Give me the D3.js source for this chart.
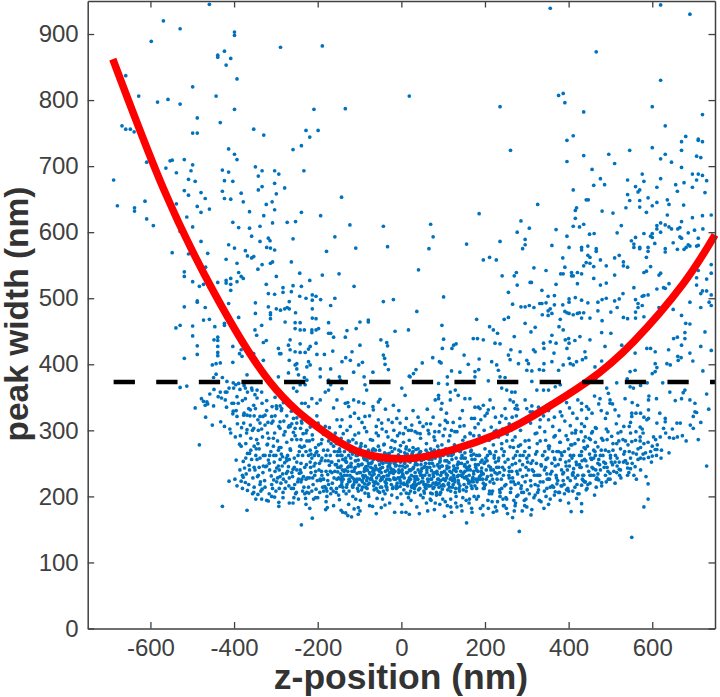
<!DOCTYPE html>
<html><head><meta charset="utf-8">
<script src="https://cdn.jsdelivr.net/npm/d3@7"></script>
<style>html,body{margin:0;padding:0;background:#fff}svg{display:block}</style></head>
<body><svg id="c" width="720" height="697"></svg>
<script>
const xTicks=[-600,-400,-200,0,200,400,600];
const yTicks=[0,100,200,300,400,500,600,700,800,900];
const threshold=373;
const curveZ=[-690,-569,-449,-314,-194,-100,10,120,236,316,443,555,674,750];
const curveW=[862,666,510,373,302,267,257,270,296,322,373,434,522,596];
const upperLeft=[-459,945,-569,920,-529,908,-399,903,-399,898,-598,889,-289,880,-189,882,-423,874,-439,868,-439,865,-408,863,-419,853,-659,837,-393,832,-499,820,-628,806,-443,806,-583,797,-558,801,-529,794,-399,786,-209,786,-134,787,19,806,-488,773,-433,766,-668,761,-659,756,-648,756,-639,752,-499,750,-488,750,-353,756,-329,747,-228,754,-199,754,-219,744,-239,731,-259,725,-413,726,-399,718,-393,710,-609,706,-553,708,-548,709,-519,710,-499,702,-563,697,-538,690,-503,693,-428,694,-413,691,-349,699,-333,693,-303,693,-293,688,-342,685,-233,693,-688,679,-509,680,-493,677,-423,678,-403,677,-303,674,-333,669,-342,664,-279,667,-519,663,-479,660,-428,662,-383,659,-299,658,-509,656,-469,651,-423,651,-408,650,-143,653,-613,647,-378,646,-309,646,-323,642,-679,640,-538,643,-488,639,-459,635,-638,637,-638,632,-303,634,-479,630,-363,631,-239,630,-329,625,-193,625,-513,623,-609,620,-403,615,-308,614,-273,615,-253,616,-593,610,-499,608,-389,607,-363,606,-338,609,-123,611,-43,609,-529,601,-358,594,-318,591,-159,593,-259,590,-479,586,-338,586,-314,587,-413,581,-399,576,-322,577,-313,576,-303,573,-373,572,-179,571,-109,576,-33,578,-548,569,-509,567,-463,568,-368,564,-358,561,-353,563,-419,559,-263,555,-393,553,-313,553,-308,555,-333,551,-343,544,-468,547,-519,540,-519,533,-389,539,-243,538,-383,533,-378,530,-299,533,-189,535,-149,537,-419,527,-419,523,-408,530,-499,525,-439,524,-393,525,-219,527,-473,521,-483,518,-459,516,-408,521,-408,512,-323,521,-283,516,-283,509,-259,519,-239,518,-113,518,-318,507,-303,506,-263,510,-243,503,-228,500,-213,505,-213,497,-204,503,-193,498,-159,500,-488,496,-488,494,-43,495,-19,498,-413,492,-349,493,-268,495,-519,487,-469,486,-169,489,-318,487,-299,484,-289,482,-279,484,-273,486,-268,484,-213,484,-349,477,-313,478,-313,475,-253,478,-389,471,-313,469,-213,470,-204,469,-473,467,-459,468,-79,467];
const upperRight=[356,939,620,944,690,930,466,873,620,830,376,807,387,810,391,796,236,790,600,790,436,782,720,778,631,761,411,746,396,739,680,745,670,737,710,741,710,739,720,737,261,724,546,724,600,728,670,724,496,718,436,716,631,718,620,711,706,715,716,713,396,707,510,704,646,706,670,698,456,695,576,688,696,688,710,688,720,686,476,681,541,679,620,681,580,677,706,679,730,678,676,675,460,671,486,672,656,672,560,669,611,668,696,668,411,664,570,664,566,661,660,662,726,660,541,657,442,649,447,649,546,648,590,652,570,648,636,649,326,642,611,645,640,642,600,640,675,641,419,637,416,633,537,637,570,638,480,632,506,629,586,630,186,628,636,626,741,626,720,625,696,622,416,621,286,617,670,616,70,612,620,614,631,611,611,610,411,609,426,608,436,612,526,610,640,608,646,605,611,605,661,605,666,607,306,606,721,605,370,604,701,603,277,600,516,599,620,600,600,598,580,598,686,599,450,597,461,598,396,594,596,594,600,592,76,593,666,593,670,591,560,592,710,591,296,589,236,586,550,587,156,582,360,580,296,581,556,582,556,577,606,583,650,584,446,579,401,577,431,577,431,573,570,577,570,575,590,577,590,571,686,581,690,579,706,579,710,580,681,577,676,574,660,574,631,575,631,570,66,575,290,575,466,575,466,571,196,558,211,562,227,558,446,565,451,562,521,565,510,561,586,562,386,561,476,558,531,555,531,549,541,547,442,554,436,549,451,553,460,548,490,549,596,548,317,546,391,547,41,543,346,542,580,539,586,541,710,542,741,551,741,538,275,539,270,534,241,534,381,537,387,537,407,539,407,534,411,534,421,539,431,537,510,535,620,538,616,535,460,530,730,529,706,531,308,524,311,524,490,523,476,520,421,522,277,520,370,521,640,522,706,520,556,516,611,514,627,516,631,515,336,512,256,509,720,511,716,507,730,511,741,505,101,502,351,503,366,504,530,507,580,504,590,505,576,503,401,499,401,494,416,501,431,497,490,500,480,498,470,494,510,496,521,499,560,498,446,493,690,494,736,494,741,489,566,492,566,486,576,489,266,491,286,487,296,487,306,489,317,486,331,492,336,492,346,493,366,490,386,490,516,486,716,486,650,483,616,486,37,480,351,481,356,484,470,481,501,479,391,480,396,478,401,477,411,475,421,477,426,478,436,478,560,479,337,475,351,474,360,477,670,474,531,471,541,469,560,470,580,472,256,471,246,468,431,470,451,470,480,466,380,468,180,468];
const midLeft=[-539,455,-529,459,-499,458,-499,443,-519,409,-488,428,-488,415,-448,437,-439,441,-439,436,-439,427,-439,418,-439,413,-446,457,-423,462,-423,459,-403,427,-403,403,-433,402,-443,401,-452,399,-449,380,-443,385,-428,380,-529,365,-513,367,-493,334,-468,320,-452,308,-432,313,-423,306,-408,296,-397,290,-387,279,-383,276,-368,265,-363,265,-483,278,-473,344,-478,348,-463,340,-458,355,-448,362,-438,351,-421,358,-412,364,-402,372,-396,369,-386,362,-376,368,-368,358,-358,364,-350,354,-345,349,-333,341,-322,345,-309,336,-299,337,-287,330,-274,322,-263,329,-250,319,-239,314,-226,317,-213,309,-199,311,-430,349,-418,335,-402,329,-390,341,-376,326,-365,333,-352,322,-343,316,-331,321,-319,312,-307,314,-293,306,-281,314,-268,307,-254,303,-241,303,-228,296,
-350,452,-346,444,-334,459,-278,464,-254,463,-242,463,-254,454,-242,452,-232,452,-214,452,-214,448,-204,452,-198,454,-174,463,-174,447,-169,447,-162,441,-130,451,-134,441,-108,454,-99,464,-79,464,-15,450,17,452,-330,433,-323,436,-266,437,-270,429,-266,422,-254,419,-242,418,-230,418,-222,423,-218,427,-242,431,-204,432,-294,424,-291,416,-288,416,-385,434,-383,422,-202,415,-184,415,-164,420,-118,419,-99,429,-49,437,-35,433,-33,428,-387,416,-381,412,-353,416,-349,409,-345,404,-342,399,-338,394,-330,406,-268,406,-250,401,-250,393,-254,399,-222,404,-218,399,-226,396,-194,393,-169,393,-142,404,-133,410,-122,406,-102,399,-93,403,-43,414,-40,409,-39,400,-31,392,-369,384,-294,381,-270,387,-246,384,-232,380,-226,376,-194,381,-148,381,-174,376,-146,376,-114,388,-89,381,-68,388,-87,369,19,382,
-417,374,-401,364,-389,371,-373,364,-357,361,-345,361,-334,358,-433,358,-417,358,-465,343,-469,338,-449,337,-421,346,-405,341,-401,341,-393,351,-373,348,-353,338,-349,333,-361,331,-302,350,-290,337,-286,333,-298,333,-258,364,-250,359,-242,369,-230,369,-238,341,-230,341,-214,348,-202,341,-194,346,-182,358,-174,361,-169,369,-142,363,-154,346,-134,341,-126,336,-114,346,-102,343,-90,341,-83,361,-68,336,-55,343,-51,347,-19,338,9,353,1,364,-403,325,-393,321,-377,323,-369,323,-377,311,-361,308,-369,301,-353,303,-338,321,-326,323,-338,311,-326,308,-310,311,-310,321,-290,313,-290,303,-270,305,-250,311,-258,318,-238,311,-218,305,-154,316,-146,306,-122,321,-122,306,-102,318,-87,321,-67,331,-55,316,-47,311,-31,316,-11,318,-3,311,17,300];
const midRight=[97,459,101,438,98,424,121,424,131,431,125,429,91,404,150,414,172,439,182,439,196,437,186,408,176,389,211,457,220,452,230,447,224,432,236,431,270,442,262,422,256,414,260,407,216,404,228,399,232,391,296,462,320,456,310,449,316,422,320,419,284,419,300,406,304,401,280,401,300,391,312,390,340,432,341,424,341,401,360,404,340,391,330,392,365,417,360,444,370,432,356,434,387,452,377,457,400,439,401,432,415,436,427,442,404,401,411,399,401,409,419,404,433,407,441,410,439,419,392,437,396,424,451,437,479,448,501,447,487,427,479,405,463,396,527,429,547,427,559,417,547,389,559,391,29,386,21,381,89,371,110,381,110,370,176,381,208,375,236,381,248,380,240,364,252,361,264,358,272,358,312,374,324,361,340,361,352,361,368,366,380,369,387,399,376,391,89,353,81,346,89,348,97,341,117,358,129,361,117,346,136,353,152,348,164,348,176,335,184,335,196,338,212,346,208,331,188,333,260,346,268,343,276,338,248,333,272,333,300,333,312,337,328,335,320,323,308,328,356,341,368,343,431,341,443,336,431,331,475,348,499,346,499,341,511,331,547,366,555,364,491,364,495,356,
285,300,298,318,309,311,320,295,331,305,343,298,352,316,366,320,378,300,391,314,404,307,417,300,431,310,443,318,455,296,466,303,479,288,490,302,503,291,515,280,525,298,536,284,545,306,561,298,571,305,571,290,571,284,551,283,591,318,587,316,591,331,591,346,551,326,561,326,551,321,710,286,698,303,691,308,698,321,706,327,681,284,659,311,667,311,641,289,651,288,660,290,619,290,627,303,611,311,631,313,631,318,730,355,721,390,678,361,674,357,670,348,702,341,702,328,726,449,741,421,716,427,690,417,697,405,661,412,669,410,662,406,678,448,690,461,680,462,678,439,670,429,660,441,651,439,639,422,635,401,643,399,607,401,611,395,607,389,600,386,587,424,596,424,607,419,
80,298,95,332,110,312,60,310,40,320,25,308,45,295,70,310,105,315,120,300,140,318,150,307,165,295,175,318,190,316,205,326,215,305,225,320,235,312,250,318,265,320,275,322,340,322,352,330,365,340,380,328,395,342,410,326,420,318,448,332,462,352,478,330,488,318,505,340,520,322,535,348,565,338,580,320,610,348,625,372,642,358,655,345,588,372,572,368,540,378,515,372,465,378,95,402,140,388,160,400,185,392,120,390,75,410,50,402,35,392];
const core=[-428,185,-369,179,-239,157,-213,167,-412,223,-398,226,-393,216,-383,223,-373,221,-368,209,-353,206,-343,203,-333,211,-322,194,-318,193,-303,199,-293,191,-293,185,-268,190,-259,190,-228,188,-219,182,-181,180,-177,183,-144,179,-133,175,-128,171,-119,169,-103,173,-113,181,-103,183,-69,185,-48,183,-39,187,1,176,11,176,19,173,
-378,253,-375,243,-371,234,-378,229,-364,247,-358,256,-350,240,-344,230,-337,222,-331,236,-325,245,-318,255,-311,231,-305,225,-298,243,-292,212,-288,220,-284,234,-279,251,-272,262,-268,228,-263,212,-259,241,-253,204,-248,222,-244,235,-240,250,-236,262,-233,214,-229,197,-225,228,-221,205,-217,244,-214,258,-211,218,-207,232,-204,211,-200,198,-197,240,-193,224,-190,258,-186,208,-183,215,-180,192,-176,233,-172,247,-169,204,-165,220,-162,186,-159,238,-155,212,-152,268,-148,195,-145,226,-141,240,-138,208,-134,254,-130,218,-126,188,-123,232,-120,245,-116,200,-112,222,-108,262,-105,212,-101,236,-98,194,-94,249,-90,228,-87,205,-83,240,-80,218,-76,186,-72,250,-69,232,-65,210,-61,222,-58,197,-54,240,-50,214,-47,252,-43,230,-39,204,-36,220,-32,245,-28,190,-25,236,-21,212,-17,250,-14,226,-10,198,-6,240,-3,215,1,188,4,232,8,250,12,205,15,222,19,240,23,194,26,214,30,230,34,252,37,184,41,210,45,236,48,222,52,198,56,245,59,218,63,178,67,232,70,205,74,250,78,214,81,190,85,238,89,226,92,203,96,246,100,218,103,170,107,234,111,210,114,251,118,196,122,224,125,240,129,206,133,184,136,232,140,216,144,250,147,198,151,228,155,208,158,240,162,190,166,222,169,176,173,234,177,248,180,212,184,200,188,226,191,238,195,186,199,216,202,258,206,230,210,204,213,244,217,192,221,220,224,236,228,178,232,254,235,210,239,226,243,196,246,240,250,218,254,174,257,232,261,206,265,248,268,222,272,186,276,238,279,202,283,254,287,216,290,230,294,194,298,244,301,210,305,262,309,224,312,180,316,238,320,202,323,250,327,216,331,232,334,192,338,262,342,208,345,244,349,226,353,272,356,196,360,238,364,214,367,256,371,228,375,248,378,206,382,266,386,234,389,218,393,252,397,240,400,272,404,224,408,258,411,236,415,280,419,248,422,204,426,262,430,244,433,226,437,274,441,254,444,212,448,238,452,286,455,256,459,242,463,268,466,226,470,250,
-360,288,-352,276,-340,272,-332,290,-320,279,-312,268,-303,296,-296,284,-288,274,-281,293,-274,282,-265,270,-258,297,-250,286,-243,276,-235,295,-228,268,-220,284,-213,293,-205,274,-198,262,-190,286,-183,297,-176,270,-168,280,-160,292,-153,262,-146,282,-139,295,-131,252,-124,283,-118,268,-111,293,-103,255,-96,280,-90,267,-83,298,-76,258,-69,285,-62,270,-55,292,-49,262,-42,278,-36,298,-29,265,-22,285,-16,272,-9,292,-2,268,5,295,12,275,19,285,26,265,33,298,40,272,46,288,53,262,60,280,66,295,73,268,80,285,87,276,93,258,100,292,106,272,113,284,120,262,127,278,133,298,140,268,147,285,153,258,160,278,167,270,173,292,180,262,187,282,193,255,200,272,207,290,213,265,220,278,227,300,233,258,240,280,246,268,253,294,260,275,266,285,273,262,280,276,
-395,255,-386,240,-380,212,-365,218,-355,228,-348,196,-340,244,-327,224,-315,240,-308,212,-300,262,-290,230,-283,206,-276,222,-270,245,-260,230,-255,218,-250,240,-246,196,-238,226,-231,244,-226,206,-222,262,-216,236,-210,196,-206,250,-201,224,-195,206,-191,238,-187,226,-182,254,-178,200,-174,218,-170,262,-166,236,-163,208,-158,248,-154,226,-150,202,-147,244,-143,218,-140,176,-136,232,-132,204,-128,244,-125,226,-121,258,-117,216,-113,238,-109,196,-106,226,-102,246,-99,178,-95,210,-92,232,-88,256,-85,214,-81,240,-78,200,-74,226,-70,264,-67,222,-63,240,-60,174,-56,208,-52,248,-48,228,-45,196,-41,262,-38,238,-34,210,-30,226,-27,250,-23,202,-19,240,-16,176,-12,216,-8,258,-5,228,-1,204,3,246,6,220,10,262,14,236,17,198,21,252,25,216,28,242,32,206,36,262,39,226,43,174,47,248,50,232,54,208,58,262,61,240,65,216,69,196,72,256,76,234,79,180,83,218,87,248,90,262,94,206,98,236,101,226,105,192,109,254,112,218,116,238,120,176,123,266,127,226,131,200,134,248,138,212,142,232,145,178,149,258,152,238,156,214,160,244,163,196,167,262,170,226,174,200,178,244,181,222,185,262,189,182,192,236,196,212,200,252,203,226,207,194,211,268,214,240,218,208,222,258,225,184,229,226,233,244,236,200,240,272,244,232,247,216,251,182,255,256,258,238,262,212,266,228,269,194,273,250,277,268,280,220,284,240,288,206,291,262,295,186,299,232,302,252,306,274,310,216,313,240,317,198,321,264,324,232,328,210,332,284,335,246,339,222,343,268,346,200,350,258,354,276,357,234,361,216,365,290,368,246,372,268,376,206,379,282,383,240,387,224,390,268,394,292,398,212,401,254,405,278,409,234,412,262,416,296,420,218,423,286,427,244,431,268,434,232,438,256,442,210,445,276,449,288,453,258,457,298,460,232,464,304,
470,275,476,262,482,285,488,270,494,298,500,258,506,280,512,262,518,296,524,272,530,286,536,254,542,278,548,296,554,266,560,285,566,256,572,274,578,296,584,266,590,282,596,268,603,290,612,278,476,240,484,252,492,244,500,262,508,238,516,258,524,240,532,264,540,250,548,258,578,264,566,272,545,268,460,258,465,240,472,225,488,232,440,290,430,298,398,286,368,292,345,285,325,280,305,285,295,268,285,278,272,290,262,300,252,284,242,302,232,290,222,298,210,285,198,300,186,292,176,304,164,296,152,290,140,306,128,298,116,292,104,302,90,298,78,290,64,300,52,306,38,296,24,300,10,304,-4,296,-18,300,-32,290,-46,302,-60,296,-74,286,-88,304,-102,296,-116,286,-130,300,-144,288,-158,296,-172,304,-186,294,-200,302,-212,286,-226,300,-240,286,-254,292,-266,306,-278,298,-292,274,-306,288,-320,296,-334,302,-346,286,-356,300,-370,296,-382,304,-392,310,
-385,292,-372,280,-360,270,-348,262,-338,258,-326,262,-316,250,-304,252,-294,246,-284,260,-274,254,-256,258,-240,236,-228,226,-218,252,-202,268,-192,254,-180,262,-168,252,-152,244,-142,230,-126,262,-110,244,-94,224,-82,254,-68,238,-52,206,-34,232,-14,246,0,238,18,204,33,226,46,202,60,190,71,194,84,202,92,188,99,196,110,186,118,184,130,190,143,186,155,194,168,182,180,196,195,172,208,182,220,176,230,192,246,186,252,196,266,168,273,190,289,178,300,184,330,194,352,188,366,202,380,194,395,210,415,214,425,204,440,222,456,244,470,234,485,244,495,226,505,248,515,236,525,228,535,254,548,242,562,226,572,240,585,230,598,252,610,262,622,270,632,296,640,266,282,147,551,138,156,160,310,172,341,182,406,177,431,177,580,184,590,196,590,219,730,246,621,258,607,271,611,271,600,261,591,259,580,257,559,245,556,232,541,232,541,243,521,241,521,252,511,252,531,252,499,235,511,220,499,226,479,216,479,221,490,222,462,202,451,220,451,232,431,217,435,224,410,208,400,208,400,190,419,197,431,189,384,216,368,207,348,212,372,219];
const dense=[-140,256,-73,244,-22,268,47,238,112,262,-118,229,-35,214,-2,277,63,226,134,243,-152,237,-67,272,18,222,89,270,171,229,-103,208,-48,236,35,271,98,211,148,235,-129,275,-59,228,6,210,72,239,117,226,-92,265,-12,247,55,205,141,268,192,243,-147,215,-78,250,-27,225,41,263,103,238,-112,242,-41,279,24,232,83,221,158,252,-86,231,-7,263,66,216,125,232,201,218,-136,268,-56,219,29,244,93,254,169,212,-99,273,-19,235,51,228,137,220,-123,223,-64,258,11,272,78,246,152,266,-144,246,-82,212,-31,262,36,218,108,228,183,238,-108,281,-45,244,16,254,69,262,130,212,-76,236,-3,224,58,250,121,256,209,246,-131,214,-52,270,21,239,86,234,165,240,-95,248,-24,218,44,212,114,244,194,226,-117,264,-37,252,7,228,74,204,143,258,-88,219,-15,283,61,236,128,222,215,232,-150,254,-71,226,27,258,96,216,176,256,-106,235,-43,208,39,226,106,268,-127,284,-62,246,2,240,81,258,161,220,-84,266,-9,214,53,256,118,208,187,230,-139,226,-54,232,31,212,91,243,225,252,-101,217,-25,274,14,264,70,226,136,252,-120,250,-69,270,-1,220,49,242,110,232,198,212,-145,234,-33,240,22,226,87,266,155,244,-90,258,-17,226,64,222,124,264,206,262,-113,226,-57,256,33,236,100,226,178,226,-134,240,-79,204,9,244,76,212,146,230,-97,276,-39,222,43,266,115,214,218,226,-125,208,-65,234,-11,256,57,214,131,238,190,252,-85,245,-28,246,25,214,94,232,162,232,-148,272,-50,224,5,282,68,244,139,208,228,244,-109,254,-74,264,-20,214,38,248,107,254,173,264,-128,238,-47,260,19,228,84,206,151,246,-93,222,-6,236,59,270,126,228,211,208,-142,262,-60,212,32,222,97,278,196,234,-116,214,-34,264,12,218,79,236,167,216,-81,228,-14,252,46,232,119,270,222,262,-104,270,-68,242,28,268,90,220,184,248,-132,252,-42,230,3,256,73,256,144,272,-89,238,-23,238,54,218,109,246,203,240,
-330,262,-302,238,-275,235,-247,262,-218,270,-190,232,-162,276,-310,218,-285,246,-258,212,-232,276,-205,238,-176,224,-156,206,-322,246,-296,228,-268,256,-240,222,-214,208,-186,270,-166,252,-342,232,-315,262,-290,256,-262,236,-236,208,-208,262,-180,212,-345,256,-306,276,-278,212,-250,252,-226,284,-196,250,-170,238,-336,208,-300,208,-272,238,-246,226,-220,228,-194,226,-160,268,-352,244,-326,214,-294,270,-266,272,-242,240,-212,228,-188,214,-174,284,
235,236,262,222,290,248,318,232,346,256,374,224,402,246,430,262,248,252,276,200,304,240,332,222,360,250,388,236,416,228,444,246,472,256,258,228,286,212,314,254,342,240,370,232,398,228,426,248,454,232,482,262,240,212,268,258,296,222,324,268,352,226,380,256,408,278,436,232,464,262,250,198,278,234,306,204,334,248,362,268,390,204,418,252,446,218,474,248,502,252,244,262,272,218,300,258,328,232,356,214,384,262,412,242,440,272,468,228,496,268];
const denseExtra=[-88,242,12,236,119,228,-142,222,-40,266,62,244,158,226,-105,262,-2,252,85,218,-66,216,33,248,139,250,-125,246,-18,228,104,254,176,216,-79,270,22,208,94,224,-50,242,70,272,148,210,-114,218,8,266,125,246,-31,232,52,222,187,262,-98,236,40,240,113,220,-137,238,-58,262,77,230,163,246,-10,220,28,274,100,262,-83,224,59,212,142,238,-122,268,-46,226,17,224,88,246,172,222,-70,252,-25,242,46,268,131,258,-150,228,-6,270,109,242,196,220,-93,214,34,216,81,262,155,230,-55,276,1,230,67,250,122,214,-130,232,-37,216,25,262,98,246,-110,254,-75,234,56,232,180,240,-16,258,42,220,136,224,-145,262,-63,220,14,246,90,214,205,254,-100,226,-28,236,72,226,166,268,-118,238,-44,250,6,218,116,272,-86,276,48,254,150,218,-126,222,19,270,83,236,190,232,-72,228,-12,212,63,266,128,242,-155,248,-52,238,36,230,105,224,220,240,-96,268,-21,254,76,220,145,262,-133,258,-60,242,10,260,92,252,173,238,-80,246,-4,246,54,244,120,236,198,250,-107,222,-35,226,29,218,87,226,160,224,-140,214,-47,214,44,236,111,266,-91,230,-15,238,66,256,134,230,212,222,-120,272,-67,256,3,234,79,270,183,226,-77,220,23,240,96,236,152,248,-103,248,-30,250,57,260,124,218,-147,268,-54,254,15,216,71,216,169,256,-84,256,-8,228,39,258,102,216,229,234,
-380,232,-352,214,-330,246,-305,262,-282,226,-256,244,-234,230,-209,246,-186,226,-168,212,-363,240,-338,218,-316,204,-292,240,-269,216,-244,268,-222,214,-198,278,-175,254,-155,280,-372,258,-347,272,-321,278,-298,222,-275,258,-251,206,-227,248,-204,266,-180,238,-161,228,-343,280,-317,288,-287,264,-262,286,-238,274,-216,264,-192,280,-171,294,-356,204,-334,196,-310,200,-283,198,-257,198,-231,204,-205,198,-178,208,
226,268,258,244,284,262,310,250,338,262,366,258,394,246,422,232,450,264,478,270,506,270,534,268,562,264,236,206,264,238,292,206,320,218,348,234,376,268,404,262,432,254,460,270,488,250,516,246,544,236,572,258,600,276,244,186,270,178,298,196,326,206,354,226,382,216,410,232,438,222,466,214,494,238,522,232,552,250,580,280,608,286,216,204,242,244,268,274,296,284,324,296,352,276,380,282,408,296,436,284,464,282,492,286,520,284,548,312,576,302,
-410,302,-395,330,-380,345,-362,322,-342,300,-322,330,-302,322,-282,342,-262,310,-242,326,-222,336,-202,322,-182,306,-162,334,-142,316,-128,342,-112,326,-94,312,-76,322,-60,306,-38,332,-22,312,-6,330,12,318,28,330,44,312,62,332,76,320,92,308,108,326,124,312,146,330,168,318,184,310,200,322,220,334,240,322,258,310,278,332,296,346,314,328,332,316,348,338,362,306,384,322,402,334,422,346,438,306,456,326,472,340,492,326,514,310,532,306,552,342,572,326,592,352,618,326,648,302,672,292,690,346,716,312,735,332];
const dots=[upperLeft,upperRight,midLeft,midRight,core,dense,denseExtra].flatMap(a=>d3.range(0,a.length-1,2).map(i=>[a[i],a[i+1]]));

const L=87.7,R=715,T=1,B=628.5;
const x=d3.scaleLinear().domain([-750,750]).range([L,R]);
const y=d3.scaleLinear().domain([0,950]).range([B,T]);
const svg=d3.select("#c");
const ink="#404040";

svg.append("g").selectAll("circle").data(dots).join("circle")
  .attr("cx",d=>x(d[0])).attr("cy",d=>y(d[1])).attr("r",1.85).attr("fill","#0072BD");

const line=d3.line().x(d=>x(d[0])).y(d=>y(d[1])).curve(d3.curveNatural);
svg.append("path").datum(d3.zip(curveZ,curveW)).attr("d",line)
  .attr("fill","none").attr("stroke","#FF0000").attr("stroke-width",7.5);
svg.append("path").datum([[-688,threshold],[750,threshold]]).attr("d",d3.line().x(d=>x(d[0])).y(d=>y(d[1])))
  .attr("fill","none").attr("stroke","#000").attr("stroke-width",4.5).attr("stroke-dasharray","21.3,21.3");

function styleAxis(g){
  g.selectAll(".domain").attr("stroke",ink).attr("stroke-width",1.5);
  g.selectAll("line").attr("stroke",ink).attr("stroke-width",1.3);
  g.selectAll("text").attr("fill",ink).attr("font-family","'Liberation Sans',Arial,sans-serif").attr("font-size",24);
}
const tl=6.5;
const plain=d=>String(d);
svg.append("g").attr("transform",`translate(0,${B})`).call(d3.axisBottom(x).tickValues(xTicks).tickSizeInner(-tl).tickSizeOuter(0).tickPadding(10).tickFormat(plain)).call(styleAxis);
svg.append("g").attr("transform",`translate(0,${T})`).call(d3.axisTop(x).tickValues(xTicks).tickSizeInner(-tl).tickSizeOuter(0).tickFormat("")).call(styleAxis);
svg.append("g").attr("transform",`translate(${L},0)`).call(d3.axisLeft(y).tickValues(yTicks).tickSizeInner(-tl).tickSizeOuter(0).tickPadding(9).tickFormat(plain)).call(styleAxis);
svg.append("g").attr("transform",`translate(${R},0)`).call(d3.axisRight(y).tickValues(yTicks).tickSizeInner(-tl).tickSizeOuter(0).tickFormat("")).call(styleAxis);

const title=(t,size)=>svg.append("text").text(t).attr("fill","#333").attr("font-family","'Liberation Sans',Arial,sans-serif").attr("font-weight","bold").attr("font-size",size).attr("text-anchor","middle");
title("z-position (nm)",35.5).attr("x",401).attr("y",689);
title("peak width (nm)",33.5).attr("transform","translate(27.5,314) rotate(-90)");
</script></body></html>
